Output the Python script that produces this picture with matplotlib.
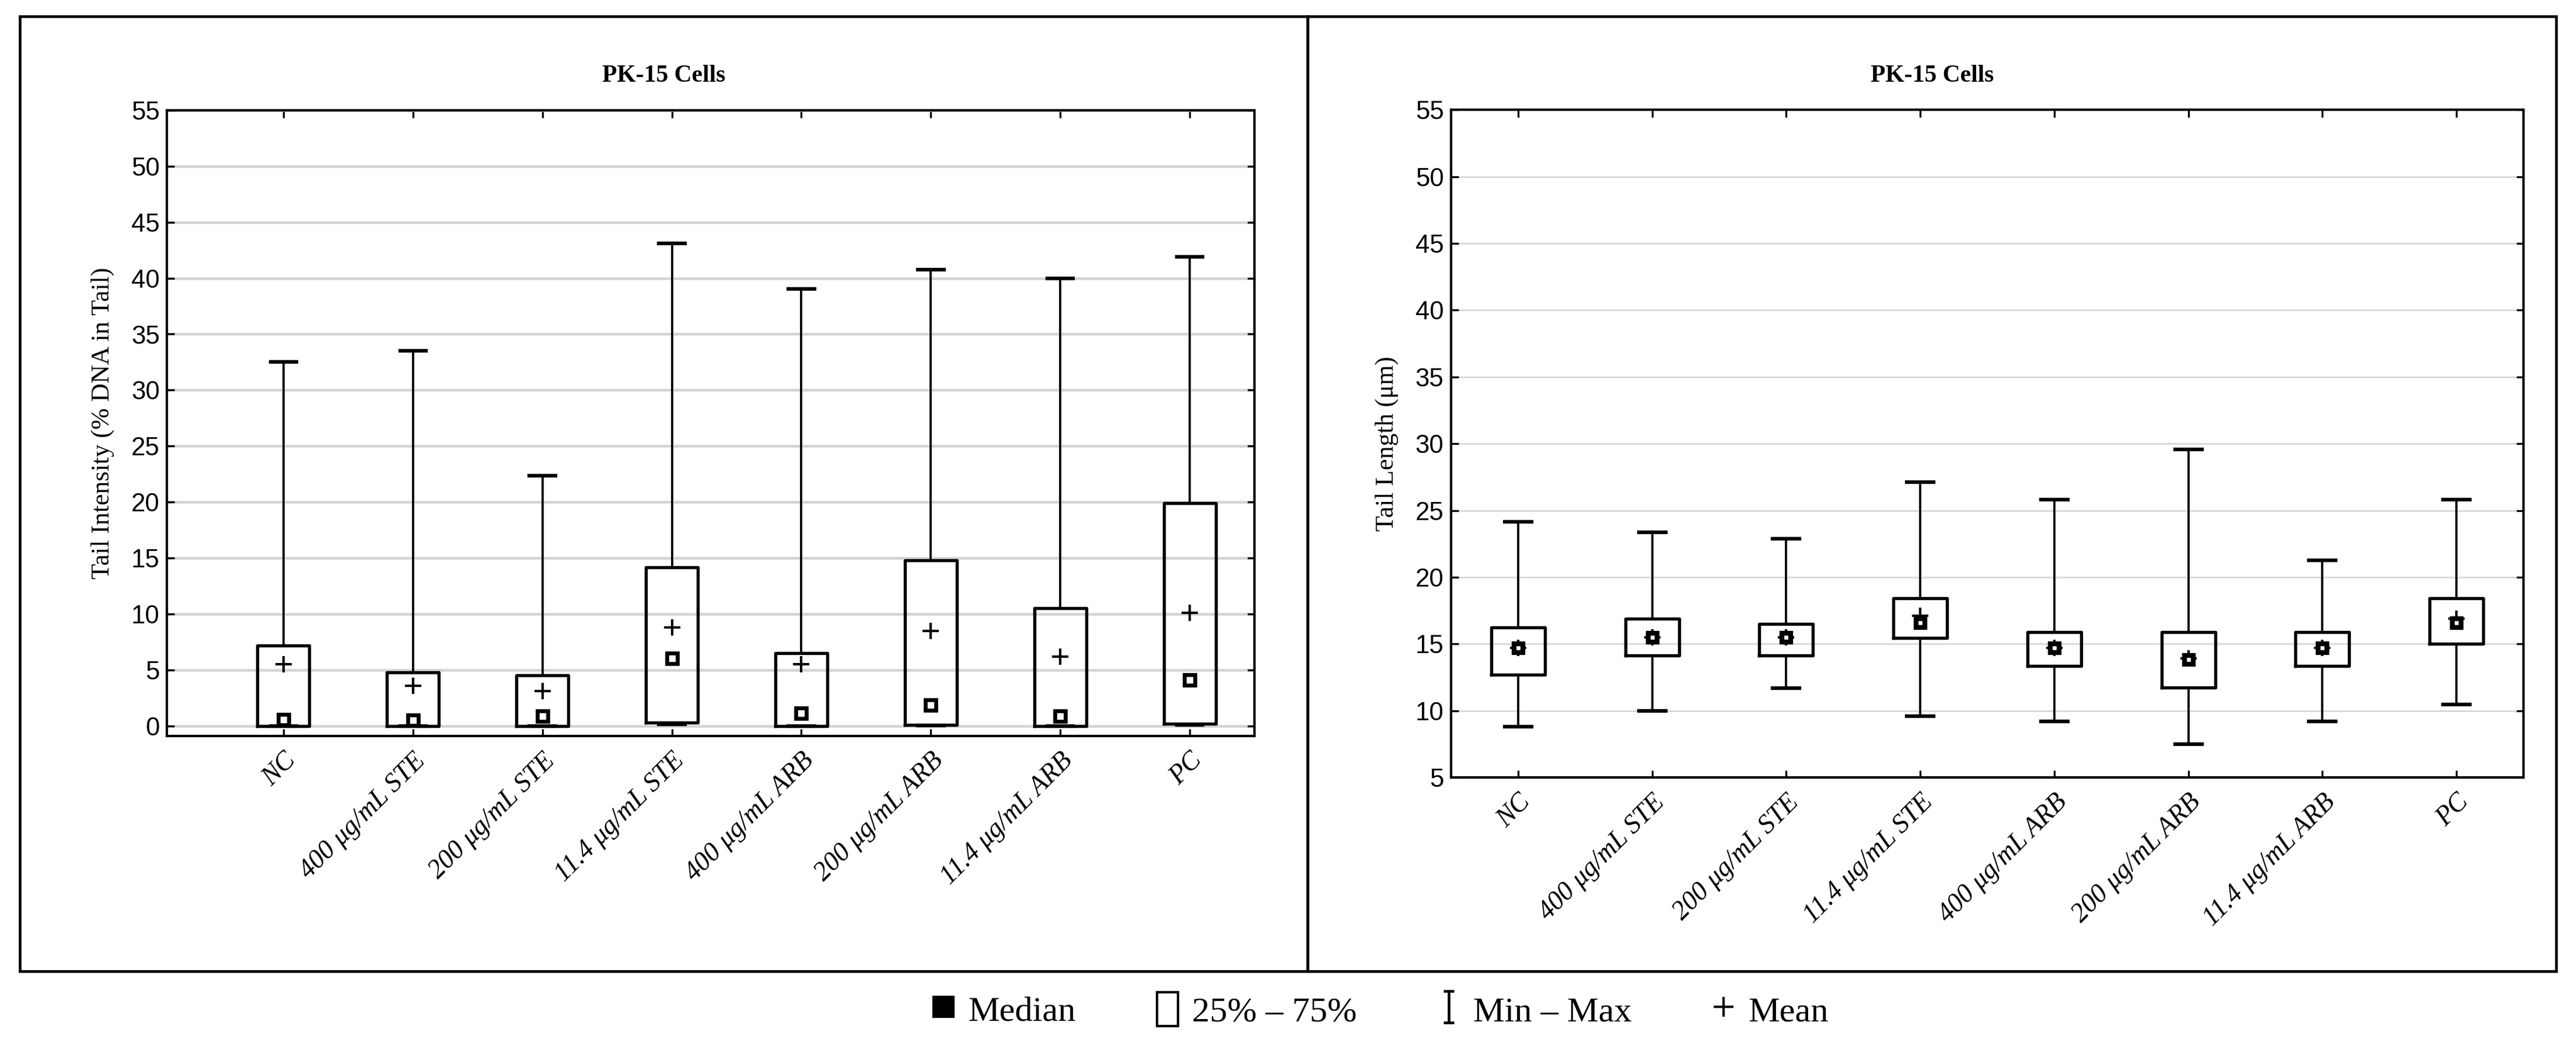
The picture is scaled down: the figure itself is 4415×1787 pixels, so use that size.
import matplotlib
matplotlib.use("Agg")
import matplotlib.pyplot as plt
from matplotlib.patches import Rectangle, Patch
from matplotlib.lines import Line2D
from matplotlib.path import Path

categories = ['NC', '400 μg/mL STE', '200 μg/mL STE', '11.4 μg/mL STE',
              '400 μg/mL ARB', '200 μg/mL ARB', '11.4 μg/mL ARB', 'PC']

# Tail Intensity (% DNA in Tail)
ti_min = [0.0, 0.0, 0.0, 0.15, 0.0, 0.05, 0.0, 0.1]
ti_q1 = [0.0, 0.0, 0.0, 0.3, 0.0, 0.1, 0.0, 0.2]
ti_med = [0.55, 0.5, 0.85, 6.05, 1.15, 1.85, 0.85, 4.1]
ti_mean = [5.5, 3.6, 3.1, 8.8, 5.5, 8.5, 6.2, 10.1]
ti_q3 = [7.2, 4.8, 4.5, 14.15, 6.5, 14.8, 10.5, 19.9]
ti_max = [32.5, 33.5, 22.35, 43.1, 39.05, 40.75, 40.0, 41.9]

# Tail Length (um)
tl_min = [8.8, 10.0, 11.7, 9.6, 9.2, 7.5, 9.2, 10.45]
tl_q1 = [12.7, 14.15, 14.15, 15.45, 13.35, 11.75, 13.35, 15.0]
tl_med = [14.7, 15.5, 15.5, 16.6, 14.7, 13.85, 14.7, 16.6]
tl_mean = [14.7, 15.5, 15.5, 17.1, 14.7, 13.9, 14.7, 16.9]
tl_q3 = [16.25, 16.9, 16.5, 18.4, 15.9, 15.9, 15.9, 18.4]
tl_max = [24.15, 23.35, 22.9, 27.1, 25.8, 29.55, 21.25, 25.8]

panel_title = 'PK-15 Cells'
ylabels = ['Tail Intensity (% DNA in Tail)', 'Tail Length (μm)']
yticks = list(range(0, 56, 5))

serif = ['Liberation Serif', 'DejaVu Serif']
narrow = ['Liberation Sans Narrow', 'Liberation Sans', 'DejaVu Sans']

fig = plt.figure(figsize=(14.717, 5.957), dpi=300)


def draw_panel(ax, lo, q1, med, mean, q3, hi, ylim, ticks, xlim, ylabel, gridlw, med_style):
    stats = []
    for i in range(len(categories)):
        stats.append({'whislo': lo[i], 'q1': q1[i], 'med': med[i], 'mean': mean[i],
                      'q3': q3[i], 'whishi': hi[i]})
    pos = list(range(len(categories)))
    ax.bxp(stats, positions=pos, widths=0.4, showmeans=True, showfliers=False,
           boxprops=dict(color='black', linewidth=1.3),
           whiskerprops=dict(color='black', linewidth=0.9),
           capprops=dict(color='black', linewidth=1.5),
           capwidths=0.2,
           medianprops=dict(linewidth=0),
           meanprops=dict(marker='+', markersize=6.5, markeredgecolor='black',
                          markeredgewidth=1.0),
           zorder=3)
    ax.plot(pos, med, linestyle='none', marker='s', markerfacecolor='white',
            markeredgecolor='black', zorder=4, **med_style)
    ax.set_xlim(*xlim)
    ax.set_ylim(*ylim)
    ax.set_yticks(ticks)
    ax.yaxis.grid(True, color='#d4d4d4', linewidth=gridlw, zorder=0)
    ax.set_axisbelow(True)
    ax.set_xticks(pos)
    ax.set_xticklabels(categories, rotation=45, ha='right', rotation_mode='anchor',
                       fontstyle='italic', family=serif, fontsize=11)
    for t in ax.get_yticklabels():
        t.set_family(narrow)
        t.set_fontsize(10.5)
    ax.tick_params(direction='in', length=3, width=0.8, top=True, right=True)
    ax.tick_params(axis='y', pad=3)
    ax.tick_params(axis='x', pad=5)
    for s in ax.spines.values():
        s.set_linewidth(1.0)
    ax.set_ylabel(ylabel, family=serif, fontsize=10.5, labelpad=7)


ax1 = fig.add_axes([0.0648, 0.2943, 0.4222, 0.6000])
draw_panel(ax1, ti_min, ti_q1, ti_med, ti_mean, ti_q3, ti_max,
           (-0.9, 55), yticks, (-0.9, 7.5), ylabels[0], 1.1,
           dict(markersize=4.2, markeredgewidth=1.6))

ax2 = fig.add_axes([0.5633, 0.2546, 0.4163, 0.6400])
draw_panel(ax2, tl_min, tl_q1, tl_med, tl_mean, tl_q3, tl_max,
           (5, 55), yticks[1:], (-0.5, 7.5), ylabels[1], 0.6,
           dict(markersize=3.6, markeredgewidth=2.0))

fig.text(0.2576, 0.927, panel_title, ha='center', va='center', family=serif,
         fontsize=10, fontweight='bold')
fig.text(0.7500, 0.927, panel_title, ha='center', va='center', family=serif,
         fontsize=10, fontweight='bold')

# outer frames
fig.add_artist(Rectangle((0.0077, 0.0688), 0.4999, 0.9155, transform=fig.transFigure,
                         fill=False, edgecolor='black', linewidth=1.1))
fig.add_artist(Rectangle((0.5076, 0.0688), 0.4847, 0.9155, transform=fig.transFigure,
                         fill=False, edgecolor='black', linewidth=1.1))

# I-beam marker for the Min - Max legend entry
ibeam = Path([(-0.35, -1), (0.35, -1), (0, -1), (0, 1), (-0.35, 1), (0.35, 1)],
             [Path.MOVETO, Path.LINETO, Path.MOVETO, Path.LINETO, Path.MOVETO, Path.LINETO])

handles = [
    Line2D([], [], linestyle='none', marker='s', markersize=8, color='black'),
    Patch(facecolor='white', edgecolor='black', linewidth=1.0),
    Line2D([], [], linestyle='none', marker=ibeam, markersize=13, color='black',
           markeredgewidth=1.1),
    Line2D([], [], linestyle='none', marker='+', markersize=8, color='black',
           markeredgewidth=1.0),
]
labels = ['Median', '25% – 75%', 'Min – Max', 'Mean']
fig.legend(handles, labels, loc='center', bbox_to_anchor=(0.536, 0.031), ncol=4,
           frameon=False, prop={'family': serif, 'size': 14.5}, handlelength=0.6,
           handleheight=1.1, handletextpad=0.4, columnspacing=2.3)

fig.savefig('out.png', dpi=300)
